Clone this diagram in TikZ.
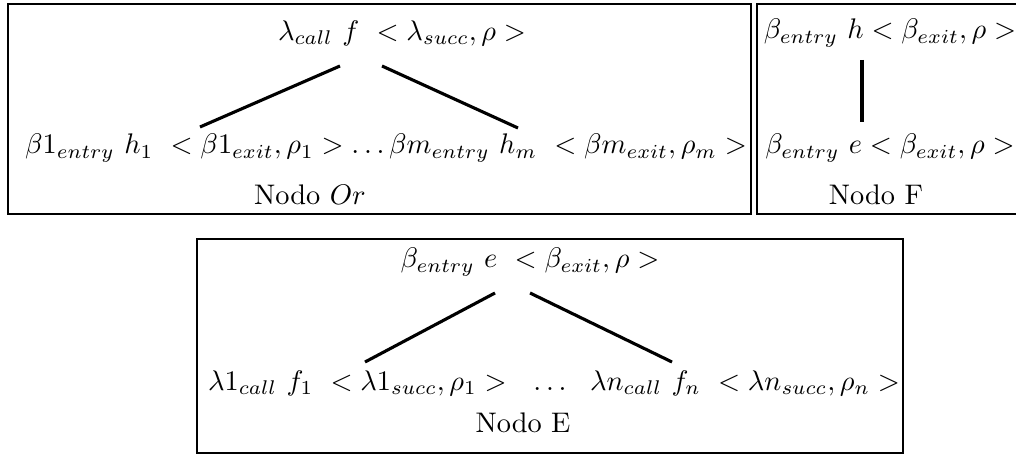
\documentclass[tikz,border=0pt]{standalone}
\usetikzlibrary{positioning}

\begin{document}
\begin{tikzpicture}[
  x=0.0124cm, y=-0.0124cm,
  frame/.style={draw, line width=0.9pt},
  edge/.style={draw, line width=1.1pt},
  lbl/.style={inner sep=0pt, font=\normalsize}
]
  \useasboundingbox (0,0) rectangle (1016,457);
  % frames
  \draw[frame] (8,4) rectangle (751,214);
  \draw[frame] (757,4) rectangle (1030,214);
  \draw[frame] (197,239) rectangle (903,453);
  % nodo Or
  \node[lbl] (orroot) at (402,33) {$\lambda_{call}\ f\ <\lambda_{succ},\rho>$};
  \node[lbl] (orkids) at (386,148) {$\beta 1_{entry}\ h_1\ <\beta 1_{exit},\rho_1>\ldots\beta m_{entry}\ h_m\ <\beta m_{exit},\rho_m>$};
  \node[lbl] (ortitle) at (310,195) {Nodo $Or$};
  \coordinate (orl1) at (340,66); \coordinate (orl2) at (200,127);
  \coordinate (orr1) at (382,66); \coordinate (orr2) at (518,128);
  \draw[edge] (orl1) -- (orl2);
  \draw[edge] (orr1) -- (orr2);
  % nodo F
  \node[lbl] (froot) at (890,33) {$\beta_{entry}\ h<\beta_{exit},\rho>$};
  \node[lbl] (fkid) at (890,148) {$\beta_{entry}\ e<\beta_{exit},\rho>$};
  \node[lbl] (ftitle) at (876,195) {Nodo F};
  \coordinate (fl1) at (862,60); \coordinate (fl2) at (862,122);
  \draw[edge] (fl1) -- (fl2);
  % nodo E
  \node[lbl] (eroot) at (530,262) {$\beta_{entry}\ e\ <\beta_{exit},\rho>$};
  \node[lbl] (ekids) at (554,383) {$\lambda 1_{call}\ f_1\ <\lambda 1_{succ},\rho_1>\ \ \ldots\ \ \lambda n_{call}\ f_n\ <\lambda n_{succ},\rho_n>$};
  \node[lbl] (etitle) at (523,423) {Nodo E};
  \coordinate (el1) at (495,293); \coordinate (el2) at (365,362);
  \coordinate (er1) at (530,293); \coordinate (er2) at (672,362);
  \draw[edge] (el1) -- (el2);
  \draw[edge] (er1) -- (er2);
\end{tikzpicture}
\end{document}
